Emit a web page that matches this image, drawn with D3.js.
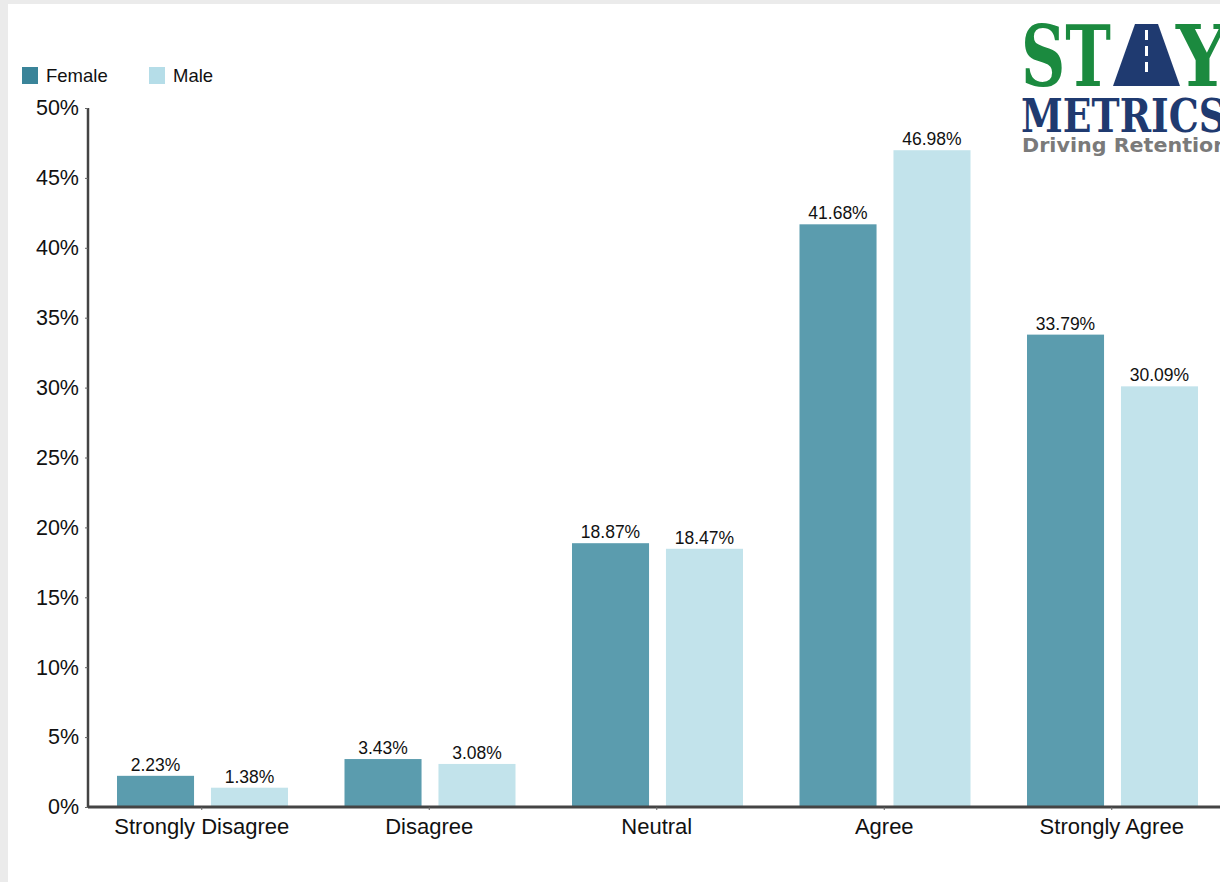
<!DOCTYPE html>
<html><head><meta charset="utf-8">
<script src="https://cdn.jsdelivr.net/npm/d3@7"></script>
<style>
html,body{margin:0;padding:0;background:#ebebeb;}
svg{display:block;}
</style></head>
<body>
<svg id="c" width="1220" height="882"></svg>
<script>
const categories = ["Strongly Disagree","Disagree","Neutral","Agree","Strongly Agree"];
const series = ["Female","Male"];
const female = [2.23, 3.43, 18.87, 41.68, 33.79];
const male = [1.38, 3.08, 18.47, 46.98, 30.09];
const yTicks = [0,5,10,15,20,25,30,35,40,45,50];
const seriesColors = ["#5b9cae","#c2e3eb"];
const legendColors = ["#3a8499","#b5dde8"];

const FONT = "Liberation Sans, Arial, sans-serif";
const svg = d3.select("#c");
svg.append("rect").attr("x",8).attr("y",4).attr("width",1212).attr("height",878).attr("fill","#fff");

const x0 = 88, yTop = 108, yBot = 807;
const x = d3.scaleBand().domain(categories).range([x0, x0 + 5*227.5]).paddingInner(0).paddingOuter(0);
const xs = d3.scaleBand().domain(series).range([29, 227.5-27.5]).paddingInner(0.18);
const y = d3.scaleLinear().domain([0,50]).range([yBot, yTop]);

const data = categories.map((c,i)=>({cat:c, vals:[female[i], male[i]]}));

const g = svg.append("g");
const groups = g.selectAll("g.cat").data(data).join("g")
  .attr("transform", d=>`translate(${x(d.cat)},0)`);
groups.selectAll("rect").data(d=>d.vals.map((v,j)=>({v, s:series[j], j})))
  .join("rect")
  .attr("x", d=>xs(d.s)).attr("width", xs.bandwidth())
  .attr("y", d=>y(d.v)).attr("height", d=>yBot - y(d.v))
  .attr("fill", d=>seriesColors[d.j]);
groups.selectAll("text.val").data(d=>d.vals.map((v,j)=>({v, s:series[j], j})))
  .join("text").attr("class","val")
  .attr("x", d=>xs(d.s)+xs.bandwidth()/2).attr("y", d=>y(d.v)-5)
  .attr("text-anchor","middle")
  .attr("font-family",FONT).attr("font-size",17.5)
  .attr("fill","#111")
  .text(d=>d.v.toFixed(2)+"%");

// Y axis
const yAxis = d3.axisLeft(y).tickValues(yTicks).tickFormat(d=>d+"%").tickSize(3).tickPadding(6);
const ya = svg.append("g").attr("transform",`translate(${x0},0)`).call(yAxis);
ya.select(".domain").attr("stroke","#444").attr("stroke-width",2.5).attr("d",`M0,${yTop}V${yBot}`);
ya.selectAll(".tick line").attr("stroke","#666");
ya.selectAll(".tick text").attr("font-family",FONT).attr("font-size",21.5).attr("fill","#111");

// X axis
const xAxis = d3.axisBottom(x).tickSize(3).tickPadding(8);
const xa = svg.append("g").attr("transform",`translate(0,${yBot})`).call(xAxis);
xa.select(".domain").attr("stroke","#444").attr("stroke-width",3).attr("d",`M${x0},0H1225`);
xa.selectAll(".tick line").attr("stroke","#666");
xa.selectAll(".tick text").attr("font-family",FONT).attr("font-size",22).attr("fill","#111");

// Legend
const legX = [22, 149];
const leg = svg.append("g");
series.forEach((s,i)=>{
  leg.append("rect").attr("x",legX[i]).attr("y",67).attr("width",16).attr("height",17).attr("fill",legendColors[i]);
  leg.append("text").attr("x",legX[i]+24).attr("y",82)
    .attr("font-family",FONT).attr("font-size",18.5).attr("fill","#111").text(s);
});

// Logo
const logo = svg.append("g");
const green = "#1b8a3f", navy = "#1f3a70";
logo.append("text").attr("x",1021).attr("y",86).attr("font-family","DejaVu Serif, serif").attr("font-weight","bold")
  .attr("font-size",84).attr("fill",green).attr("textLength",90).attr("lengthAdjust","spacingAndGlyphs").text("ST");
// A as road
logo.append("path").attr("d","M1113,86 L1135,24 L1158,24 L1180,86 Z").attr("fill",navy);
[[30,40],[46,56],[62,72]].forEach(([a,b])=>{
  logo.append("rect").attr("x",1145).attr("y",a).attr("width",3).attr("height",b-a).attr("fill","#fff");
});
logo.append("text").attr("x",1176).attr("y",86).attr("font-family","DejaVu Serif, serif").attr("font-weight","bold")
  .attr("font-size",84).attr("fill",green).attr("textLength",52).attr("lengthAdjust","spacingAndGlyphs").text("Y");
logo.append("text").attr("x",1021).attr("y",132).attr("font-family","DejaVu Serif, serif").attr("font-weight","bold")
  .attr("font-size",46).attr("fill",navy).attr("textLength",205).attr("lengthAdjust","spacingAndGlyphs").text("METRICS");
logo.append("text").attr("x",1022).attr("y",152).attr("font-family","DejaVu Sans, sans-serif").attr("font-weight","bold")
  .attr("font-size",19).attr("fill","#7a7a7a").attr("textLength",206).attr("lengthAdjust","spacingAndGlyphs").text("Driving Retention");
</script>
</body></html>
